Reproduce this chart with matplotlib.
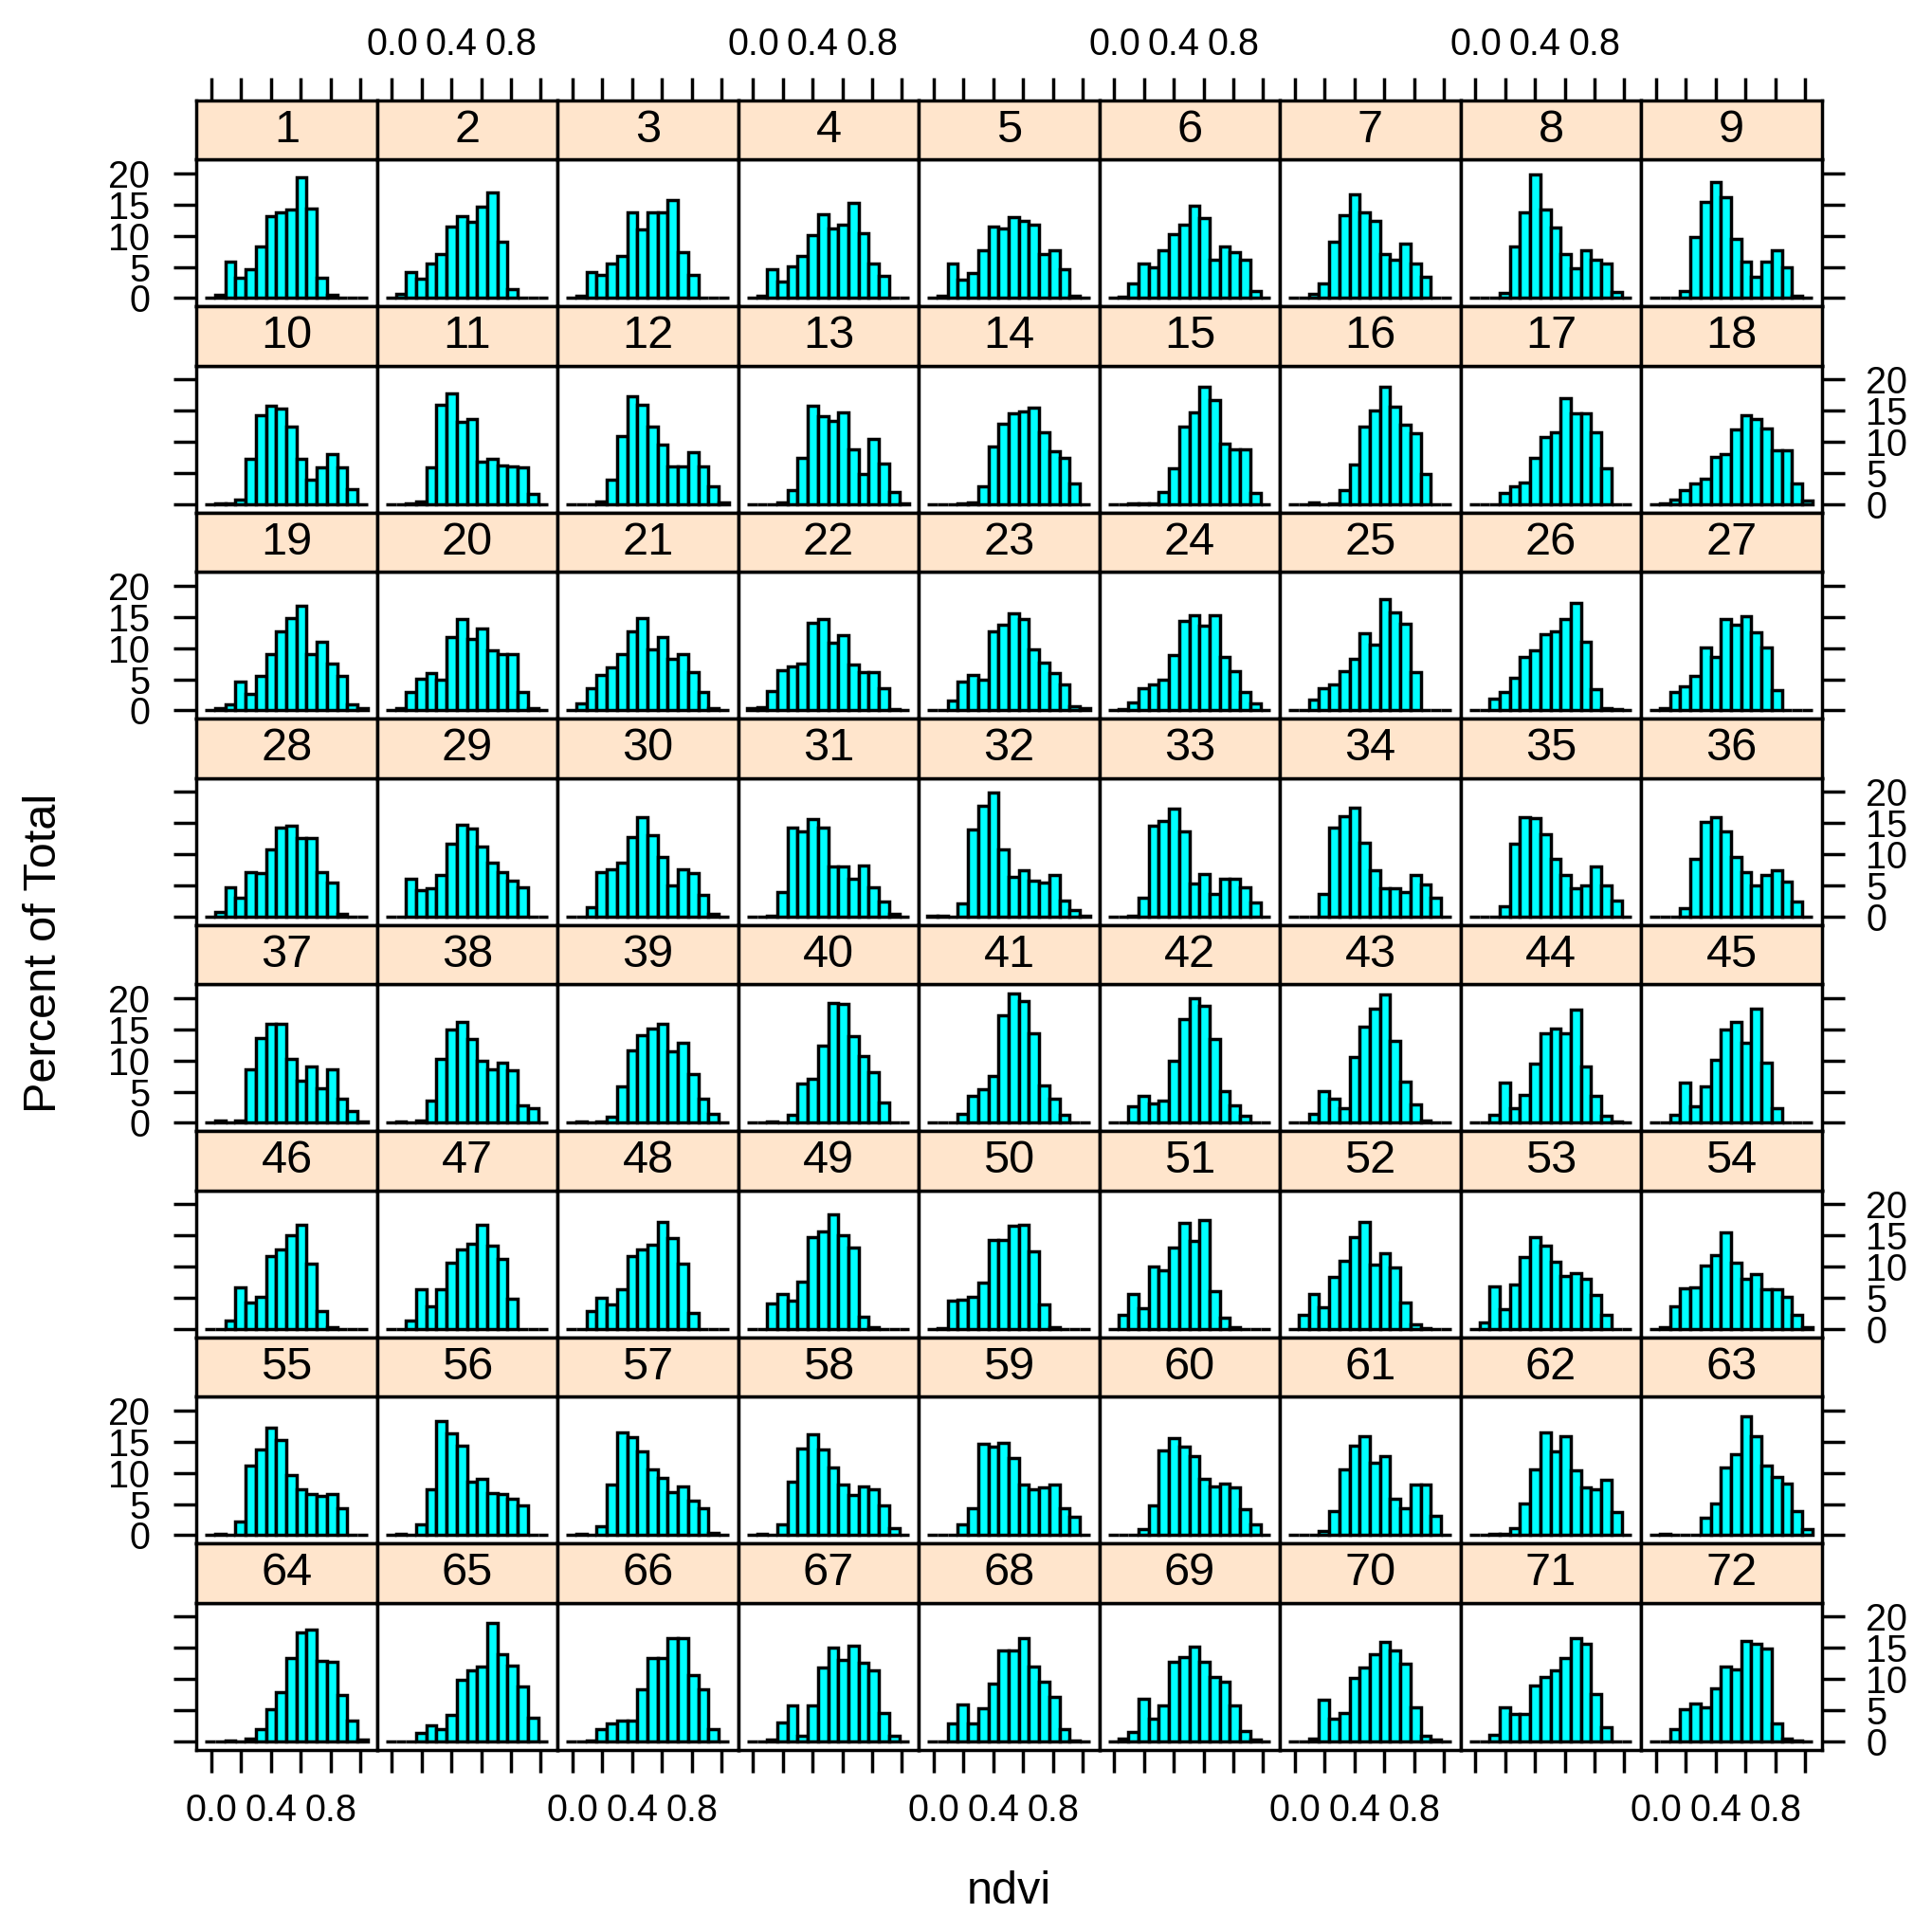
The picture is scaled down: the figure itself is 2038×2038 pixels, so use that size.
import matplotlib
matplotlib.use("Agg")
import matplotlib.pyplot as plt

plt.rcParams.update({
    "font.family": ["Liberation Sans", "DejaVu Sans"],
    "axes.linewidth": 2.5,
})

# ── data: percent of total per ndvi bin, one list of 9 panels per row ───────
breaks = [-0.042, 0.02625, 0.0945, 0.16275, 0.231, 0.29925, 0.3675, 0.43575,
          0.504, 0.57225, 0.6405, 0.70875, 0.777, 0.84525, 0.9135, 0.98175, 1.05]

x_ticks = [0.0, 0.2, 0.4, 0.6, 0.8, 1.0]
x_ticklabels = ["0.0", "", "0.4", "", "0.8", ""]
y_ticks = [0, 5, 10, 15, 20]

row1 = [
    [0, 0.5, 5.8, 3.2, 4.6, 8.3, 13.1, 13.7, 14.2, 19.3, 14.3, 3.2, 0.5, 0, 0, 0],
    [0, 0.6, 4.2, 3.1, 5.6, 7.1, 11.5, 13.2, 12.2, 14.6, 16.9, 9.1, 1.5, 0, 0, 0],
    [0, 0.4, 4.2, 3.7, 5.5, 6.8, 13.8, 11.0, 13.8, 13.7, 15.7, 7.3, 3.7, 0, 0, 0],
    [0, 0.3, 4.6, 2.7, 5.1, 6.8, 10.1, 13.4, 11.1, 11.8, 15.2, 10.4, 5.6, 3.5, 0, 0],
    [0, 0.4, 5.5, 3.0, 4.0, 7.6, 11.5, 11.1, 13.0, 12.3, 11.7, 7.1, 7.6, 4.6, 0.4, 0],
    [0, 0.2, 2.3, 5.5, 5.0, 7.7, 10.2, 11.7, 14.8, 12.8, 6.2, 8.2, 7.3, 6.1, 1.2, 0],
    [0, 0, 0.6, 2.4, 9.1, 13.3, 16.6, 13.8, 12.4, 7.0, 6.2, 8.7, 5.6, 3.4, 0, 0],
    [0, 0.1, 0.1, 0.8, 8.3, 13.7, 19.8, 14.2, 11.3, 7.1, 4.8, 7.7, 6.1, 5.6, 0.9, 0],
    [0, 0.1, 0, 1.2, 9.8, 15.4, 18.6, 16.1, 9.5, 5.8, 3.4, 5.8, 7.6, 5.0, 0.3, 0],
]
row2 = [
    [0, 0.1, 0.2, 0.7, 7.3, 14.3, 15.8, 15.3, 12.4, 7.3, 4.0, 5.9, 8.0, 5.9, 2.4, 0],
    [0, 0, 0.1, 0.5, 5.9, 16.0, 17.8, 13.2, 13.6, 6.8, 7.3, 6.2, 6.0, 5.9, 1.6, 0],
    [0, 0, 0, 0.5, 3.9, 11.0, 17.3, 15.9, 12.5, 9.5, 6.1, 6.0, 8.3, 6.0, 2.8, 0.3],
    [0, 0, 0, 0.3, 2.3, 7.5, 15.8, 14.1, 13.4, 14.8, 8.8, 4.9, 10.4, 6.5, 1.9, 0.1],
    [0, 0, 0, 0.1, 0.3, 2.8, 9.2, 12.9, 14.6, 14.9, 15.5, 11.6, 8.5, 7.5, 3.3, 0],
    [0, 0, 0.2, 0.1, 0.2, 1.9, 5.8, 12.5, 14.7, 18.8, 16.7, 9.7, 8.8, 8.8, 1.8, 0],
    [0, 0, 0.3, 0, 0.2, 2.3, 6.4, 12.5, 15.0, 18.8, 15.6, 12.8, 11.4, 4.9, 0, 0],
    [0, 0, 0, 1.8, 2.8, 3.5, 7.4, 10.7, 11.5, 17.0, 14.6, 14.6, 11.5, 5.8, 0, 0],
    [0, 0.15, 0.75, 2.3, 3.4, 4.1, 7.6, 8.0, 12.0, 14.3, 13.6, 12.1, 8.7, 8.7, 3.3, 0.6],
]
row3 = [
    [0, 0.3, 1.0, 4.6, 2.6, 5.6, 9.0, 12.6, 14.8, 16.8, 9.0, 11.0, 7.5, 5.6, 1.0, 0.4],
    [0, 0.3, 2.9, 5.1, 6.0, 4.9, 11.8, 14.6, 11.4, 13.1, 9.7, 9.1, 9.1, 2.9, 0.3, 0],
    [0, 1.1, 3.6, 5.7, 6.9, 9.1, 12.7, 14.8, 9.8, 11.7, 8.2, 9.0, 6.1, 2.9, 0.3, 0],
    [0.4, 0.5, 3.1, 6.5, 7.0, 7.5, 14.1, 14.6, 10.9, 12.1, 7.4, 6.1, 6.1, 3.6, 0.2, 0],
    [0, 0, 1.6, 4.6, 5.7, 5.0, 12.6, 13.8, 15.5, 14.7, 9.8, 7.7, 6.0, 4.1, 0.6, 0.3],
    [0, 0.2, 1.3, 3.6, 4.2, 5.0, 8.9, 14.4, 15.2, 13.6, 15.2, 8.5, 6.3, 3.0, 1.1, 0],
    [0, 0, 1.8, 3.5, 4.1, 6.3, 8.2, 12.4, 10.5, 17.8, 15.7, 13.9, 6.1, 0, 0, 0],
    [0, 0, 1.9, 3.0, 5.3, 8.5, 9.7, 12.2, 12.6, 14.7, 17.3, 11.0, 3.4, 0.3, 0.2, 0],
    [0, 0.3, 2.9, 3.9, 5.5, 10.1, 8.6, 14.6, 13.7, 15.1, 12.5, 10.1, 3.3, 0, 0, 0],
]
row4 = [
    [0, 0.7, 4.7, 3.0, 7.1, 7.0, 10.7, 14.3, 14.6, 12.6, 12.6, 7.1, 5.5, 0.4, 0, 0],
    [0, 0, 6.0, 4.2, 4.6, 6.6, 11.7, 14.8, 14.1, 11.3, 8.6, 7.2, 5.7, 4.7, 0, 0],
    [0, 0, 1.5, 7.1, 7.6, 8.7, 12.8, 16.0, 13.1, 9.5, 5.0, 7.6, 7.0, 3.5, 0.5, 0],
    [0, 0, 0.2, 3.9, 14.2, 13.7, 15.7, 14.2, 8.1, 8.1, 6.1, 8.2, 4.7, 2.4, 0.4, 0],
    [0.1, 0.1, 0, 2.1, 13.9, 17.7, 19.9, 10.7, 6.3, 7.5, 5.7, 5.4, 6.7, 2.6, 1.0, 0.2],
    [0, 0, 0.1, 3.1, 14.6, 15.3, 17.3, 13.6, 5.3, 6.9, 3.6, 6.1, 6.1, 4.7, 2.3, 0],
    [0, 0, 0, 3.7, 14.3, 16.1, 17.5, 11.8, 7.5, 4.5, 4.5, 4.0, 6.6, 5.2, 3.1, 0],
    [0, 0, 0, 1.6, 11.7, 16.0, 15.8, 13.2, 9.2, 6.7, 4.5, 5.0, 8.0, 5.0, 2.6, 0],
    [0, 0, 0, 1.3, 9.2, 15.2, 16.0, 13.7, 9.5, 7.2, 5.0, 6.6, 7.5, 5.6, 2.4, 0],
]
row5 = [
    [0, 0.3, 0, 0.3, 8.6, 13.6, 15.9, 15.9, 10.3, 6.8, 9.1, 5.5, 8.6, 3.8, 1.9, 0.2],
    [0, 0.2, 0, 0.3, 3.5, 10.3, 15.0, 16.1, 13.5, 10.0, 8.5, 9.6, 8.4, 2.8, 2.4, 0],
    [0, 0.2, 0, 0.2, 1.0, 5.8, 11.6, 14.1, 15.1, 15.9, 11.5, 12.9, 7.8, 3.8, 1.4, 0],
    [0, 0, 0.2, 0, 1.3, 6.3, 7.0, 12.4, 19.2, 19.1, 13.9, 10.7, 8.1, 3.2, 0, 0],
    [0, 0, 0, 1.4, 4.3, 5.4, 7.5, 17.2, 20.8, 19.5, 14.4, 6.0, 3.9, 1.3, 0, 0],
    [0, 0, 2.6, 4.3, 3.1, 3.5, 9.9, 16.6, 20.0, 18.7, 13.4, 5.1, 2.8, 1.1, 0, 0],
    [0, 0, 1.4, 5.1, 3.8, 2.4, 10.6, 15.4, 18.3, 20.5, 13.1, 6.6, 2.9, 0.4, 0, 0],
    [0, 0, 1.3, 6.4, 2.3, 4.4, 9.5, 14.4, 15.1, 14.3, 18.1, 9.0, 4.3, 1.1, 0.2, 0],
    [0, 0, 1.3, 6.4, 2.6, 5.8, 10.1, 14.9, 16.2, 12.8, 18.3, 9.6, 2.4, 0, 0, 0],
]
row6 = [
    [0, 0, 1.4, 6.6, 4.2, 5.2, 11.7, 12.7, 15.0, 16.7, 10.5, 2.8, 0.3, 0, 0, 0],
    [0, 0, 1.4, 6.4, 3.6, 6.4, 10.6, 12.8, 13.6, 16.7, 13.3, 11.3, 4.9, 0, 0, 0],
    [0, 0, 2.8, 5.0, 4.0, 6.4, 11.7, 12.7, 13.5, 17.2, 14.6, 10.5, 2.5, 0, 0, 0],
    [0, 0, 4.1, 5.6, 4.6, 7.6, 14.8, 15.6, 18.3, 15.1, 13.1, 1.9, 0.3, 0, 0, 0],
    [0, 0.2, 4.5, 4.7, 5.2, 7.5, 14.2, 14.3, 16.6, 16.7, 12.5, 4.0, 0.3, 0, 0, 0],
    [0, 2.2, 5.6, 3.4, 10.0, 9.4, 13.1, 17.0, 14.1, 17.4, 6.0, 1.8, 0.3, 0, 0, 0],
    [0, 2.2, 5.6, 3.5, 8.3, 10.9, 14.8, 17.2, 10.3, 12.2, 9.9, 4.2, 0.8, 0.2, 0, 0],
    [0, 1.0, 6.9, 3.2, 7.1, 11.6, 14.7, 13.3, 10.8, 8.5, 9.0, 8.0, 5.4, 2.3, 0, 0],
    [0, 0.3, 3.7, 6.5, 6.7, 10.1, 11.8, 15.5, 10.6, 8.0, 8.8, 6.4, 6.4, 5.1, 2.3, 0.3],
]
row7 = [
    [0, 0.2, 0, 2.2, 11.1, 13.7, 17.3, 15.2, 9.6, 7.3, 6.6, 6.3, 6.6, 4.3, 0, 0],
    [0, 0.2, 0, 1.7, 7.4, 18.3, 16.3, 14.4, 8.6, 9.1, 6.8, 6.6, 5.8, 4.7, 0, 0],
    [0, 0.2, 0, 1.4, 8.1, 16.4, 15.7, 13.5, 10.6, 9.2, 6.9, 7.8, 5.6, 4.3, 0.4, 0],
    [0, 0.2, 0, 1.7, 8.5, 13.9, 16.1, 13.8, 10.8, 8.1, 6.4, 7.8, 7.3, 4.8, 1.1, 0],
    [0, 0, 0, 1.7, 4.3, 14.7, 14.2, 14.8, 12.4, 8.1, 7.4, 7.7, 8.1, 4.3, 2.9, 0],
    [0, 0, 0, 0.9, 4.8, 13.6, 15.5, 14.2, 12.7, 9.0, 7.8, 8.2, 7.7, 4.1, 1.7, 0],
    [0, 0, 0, 0.7, 3.9, 10.5, 14.4, 15.9, 11.6, 12.6, 5.8, 4.3, 8.1, 8.1, 3.1, 0],
    [0, 0, 0.2, 0.2, 1.2, 5.1, 10.6, 16.4, 13.4, 15.9, 10.4, 7.7, 7.4, 8.8, 3.7, 0],
    [0, 0.2, 0, 0, 0, 2.8, 5.1, 10.8, 13.0, 19.1, 15.8, 11.1, 9.3, 8.3, 3.9, 0.9],
]
row8 = [
    [0, 0, 0.2, 0, 0.5, 2.0, 5.1, 7.9, 13.4, 17.5, 17.9, 12.9, 12.7, 7.4, 3.4, 0.3],
    [0, 0, 0, 1.4, 2.5, 2.0, 4.3, 9.8, 11.4, 12.0, 19.0, 13.9, 12.2, 8.8, 3.8, 0],
    [0, 0, 0.2, 2.0, 2.8, 3.3, 3.4, 8.4, 13.3, 13.3, 16.6, 16.6, 10.6, 8.4, 1.9, 0],
    [0, 0, 0.3, 3.0, 5.8, 0.9, 5.7, 11.8, 15.0, 13.0, 15.4, 12.6, 11.4, 4.6, 0.9, 0],
    [0, 0, 2.8, 5.9, 2.9, 5.3, 9.3, 14.5, 14.5, 16.5, 12.0, 9.6, 7.1, 1.9, 0.2, 0],
    [0, 0.4, 1.5, 6.8, 3.7, 5.8, 12.7, 13.5, 15.2, 12.8, 10.3, 9.5, 5.7, 1.7, 0.3, 0],
    [0, 0, 0.5, 6.6, 3.7, 4.6, 10.1, 11.9, 14.0, 15.9, 14.5, 12.5, 5.5, 0.9, 0.3, 0],
    [0, 0, 1.0, 5.5, 4.4, 4.4, 9.0, 10.3, 11.4, 13.3, 16.6, 15.6, 7.6, 2.2, 0, 0],
    [0, 0, 1.9, 5.2, 6.1, 5.5, 8.5, 12.0, 11.5, 16.1, 15.7, 14.9, 2.9, 0.5, 0.2, 0],
]
rows = [row1, row2, row3, row4, row5, row6, row7, row8]

# ── layout (pixels on a 2038 x 2038 canvas) ────────────────────────────────
W = H = 2038
left0, pw = 207.3, 190.5
top0, ph, sh, pitch = 168.3, 155.0, 62.5, 217.5
xlim = (-0.0993, 1.1137)
ylim = (-1.35, 22.2)

bar_col = "#00FFFF"
strip_col = "#FFE5CC"
lw = 2.5
tick_len = 17.5
tick_fs = 28.5
strip_fs = 35
label_fs = 35

left_edges = breaks[:-1]
widths = [b - a for a, b in zip(breaks[:-1], breaks[1:])]

fig = plt.figure(figsize=(W / 100, H / 100), dpi=100)

panel_id = 0
for r, row in enumerate(rows):
    for c, vals in enumerate(row):
        panel_id += 1
        x = left0 + c * pw
        ytop = top0 + r * pitch

        ax = fig.add_axes([x / W, 1 - (ytop + ph) / H, pw / W, ph / H])
        ax.bar(left_edges, vals, width=widths, align="edge",
               color=bar_col, edgecolor="black", linewidth=lw, zorder=2)
        ax.set_xlim(*xlim)
        ax.set_ylim(*ylim)
        ax.set_xticks(x_ticks)
        ax.set_yticks(y_ticks)
        ax.set_xticklabels(x_ticklabels)
        ax.set_yticklabels([str(v) for v in y_ticks])
        ax.tick_params(direction="out", length=tick_len, width=lw,
                       labelsize=tick_fs,
                       left=False, right=False, bottom=False, top=False,
                       labelleft=False, labelright=False,
                       labelbottom=False, labeltop=False)
        if c == 0:
            ax.tick_params(axis="y", left=True, labelleft=(r % 2 == 0), pad=18)
        if c == 8:
            ax.tick_params(axis="y", right=True, labelright=(r % 2 == 1), pad=16)
        if r == 7:
            ax.tick_params(axis="x", bottom=True, labelbottom=(c % 2 == 0), pad=15)

        # strip with the panel number
        sx = fig.add_axes([x / W, 1 - ytop / H, pw / W, sh / H])
        sx.set_facecolor(strip_col)
        sx.set_xlim(*xlim)
        sx.set_ylim(0, 1)
        sx.set_yticks([])
        sx.set_xticks(x_ticks)
        sx.set_xticklabels(x_ticklabels)
        sx.tick_params(direction="out", length=tick_len, width=lw,
                       labelsize=tick_fs, bottom=False, labelbottom=False,
                       top=(r == 0), labeltop=(r == 0 and c % 2 == 1), pad=11)
        sx.text(0.5, 0.5, str(panel_id), transform=sx.transAxes,
                ha="center", va="center", fontsize=strip_fs)

fig.text(47 / W, 1 - 1005.5 / H, "Percent of Total", rotation=90,
         ha="center", va="center", fontsize=label_fs)
fig.text(1064.5 / W, 1 - 1995 / H, "ndvi",
         ha="center", va="center", fontsize=label_fs)

fig.savefig("out.png", dpi=100, facecolor="white")
